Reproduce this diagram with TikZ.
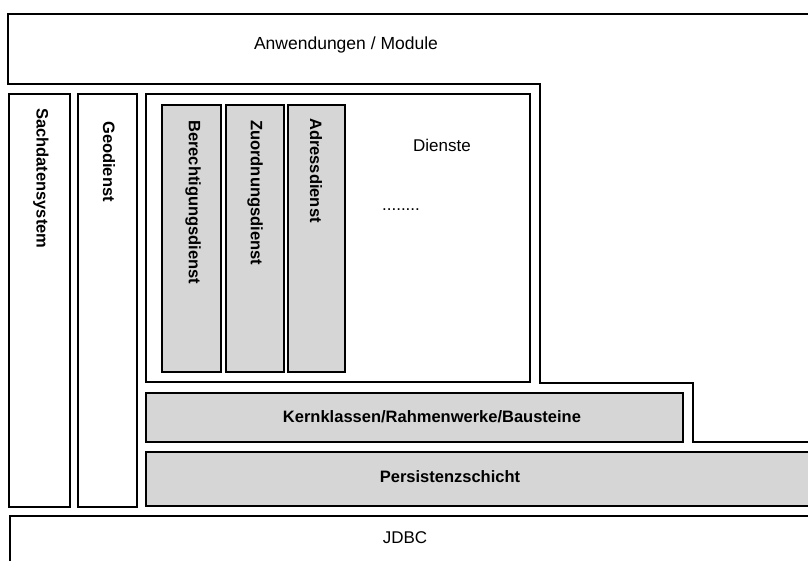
\documentclass[tikz,border=0pt]{standalone}
\usepackage{fontspec}
\setmainfont{Liberation Sans}
\begin{document}
\begin{tikzpicture}[x=1pt,y=-1pt,
  box/.style={line width=1.8pt, line join=miter},
  shadedbox/.style={box, fill=black!16},
  lbl/.style={font=\fontsize{17}{20}\selectfont, inner sep=0pt},
  blbl/.style={font=\fontsize{16.5}{19}\selectfont\bfseries, inner sep=0pt},
  vlbl/.style={blbl, rotate=-90, anchor=west}]
\useasboundingbox (0,0) rectangle (808,561);
\fill[white] (0,0) rectangle (808,561);
\clip (0,0) rectangle (808,561);
% Anwendungen / Module (stepped frame)
\draw[box] (820,14) -- (8,14) -- (8,84) -- (540,84) -- (540,383) -- (693,383) -- (693,442) -- (820,442);
\node[lbl, font=\fontsize{17.5}{20}\selectfont] (anw) at (346,45) {Anwendungen / Module};
% side columns
\draw[box] (9,94) rectangle (70,507);
\node[vlbl] (sach) at (41,108) {Sachdatensystem};
\draw[box] (78,94) rectangle (137,507);
\node[vlbl] (geo) at (109,121) {Geodienst};
% Dienste
\draw[box] (146,94) rectangle (530,382);
\node[lbl] (dienste) at (442,145) {Dienste};
\node[lbl] (dots) at (401,210) {........};
\draw[shadedbox] (162,105) rectangle (221,372);
\node[vlbl] (ber) at (193,120) {Berechtigungsdienst};
\draw[shadedbox] (226,105) rectangle (284,372);
\node[vlbl] (zuo) at (255,120) {Zuordnungsdienst};
\draw[shadedbox] (288,105) rectangle (345,372);
\node[vlbl] (adr) at (316,118) {Adressdienst};
% Kernklassen
\draw[shadedbox] (146,393) rectangle (683,442);
\node[blbl] (kern) at (432,417) {Kernklassen/Rahmenwerke/Bausteine};
% Persistenz
\draw[shadedbox] (146,452) rectangle (820,506);
\node[blbl] (pers) at (450,477) {Persistenzschicht};
% JDBC
\draw[box] (10,575) -- (10,516) -- (820,516);
\node[lbl] (jdbc) at (405,538) {JDBC};
\end{tikzpicture}
\end{document}
